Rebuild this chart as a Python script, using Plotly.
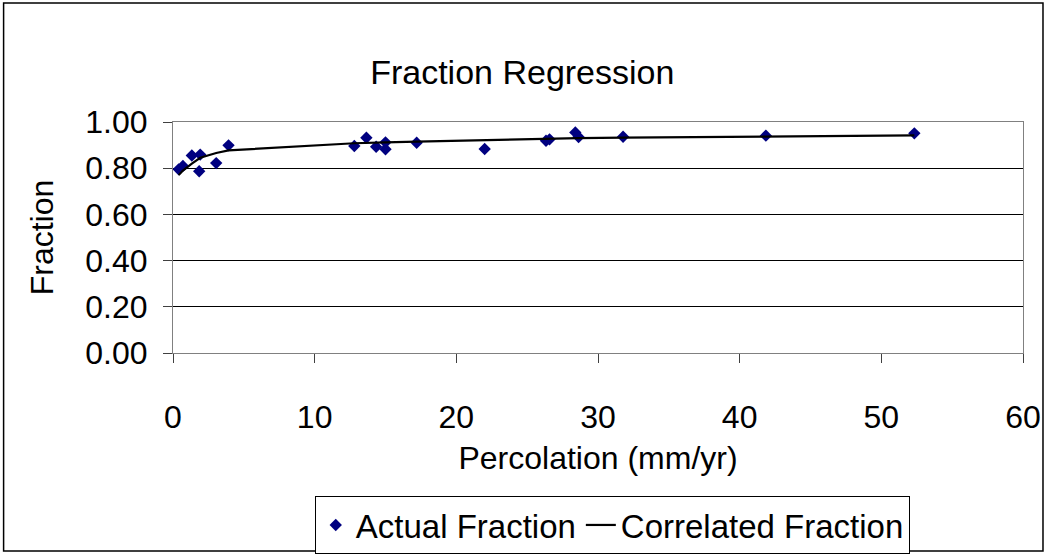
import plotly.graph_objects as go

# Data
actual_x = [0.4, 0.7, 1.33, 1.85, 1.92, 3.05, 3.92, 12.8, 13.65, 14.34, 15.0, 15.0,
            17.2, 22.0, 26.33, 26.58, 28.4, 28.63, 31.77, 41.85, 52.33]
actual_y = [0.795, 0.81, 0.855, 0.787, 0.859, 0.822, 0.899, 0.896, 0.932, 0.893, 0.912, 0.882,
            0.910, 0.883, 0.919, 0.925, 0.955, 0.935, 0.936, 0.941, 0.951]

corr_x = [0.4, 0.7, 1.33, 1.85, 1.92, 3.05, 3.92, 12.8, 13.65, 14.34, 15.0,
          17.2, 22.0, 26.33, 26.58, 28.4, 28.63, 31.77, 41.85, 52.33]
corr_y = [0.77, 0.79, 0.82, 0.84, 0.845, 0.866, 0.877, 0.908, 0.91, 0.911, 0.912,
          0.915, 0.922, 0.926, 0.926, 0.929, 0.93, 0.932, 0.937, 0.942]

x_ticks = [0, 10, 20, 30, 40, 50, 60]
y_ticks = [0.0, 0.2, 0.4, 0.6, 0.8, 1.0]

FONT = "Liberation Sans, Arial, sans-serif"
FS = 32
W, H = 1046, 554
L, R, T, B = 172.5, 23, 122, 201
pw, ph = W - L - R, H - T - B

def px(x):
    return (x - L) / pw

def py(y):
    return (H - B - y) / ph

fig = go.Figure()
fig.add_trace(go.Scatter(
    x=actual_x, y=actual_y, mode="markers", name="Actual Fraction",
    marker=dict(symbol="diamond", size=9.5, color="#000080"),
))
fig.add_trace(go.Scatter(
    x=corr_x, y=corr_y, mode="lines", name="Correlated Fraction",
    line=dict(color="black", width=2.2),
))

fig.update_layout(
    width=W, height=H,
    margin=dict(l=L, r=R, t=T, b=B, autoexpand=False),
    paper_bgcolor="white", plot_bgcolor="white",
    font=dict(family=FONT, size=FS, color="black"),
    title=dict(text="Fraction Regression", xref="paper", x=px(522), xanchor="center",
               yref="container", y=1 - 72 / H, yanchor="middle", font=dict(size=34)),
    showlegend=True,
    legend=dict(orientation="h", x=px(612), xanchor="center", y=py(525), yanchor="middle",
                bordercolor="black", borderwidth=1, bgcolor="white",
                font=dict(size=33), itemwidth=30, tracegroupgap=0),
    xaxis=dict(range=[0, 60], tickvals=x_ticks, ticktext=[str(v) for v in x_ticks],
               showgrid=False, zeroline=False, showline=True, linecolor="#808080", linewidth=1,
               mirror=True, ticks="outside", ticklen=9, tickcolor="#404040",
               ticklabelstandoff=27,
               title=dict(text="Percolation (mm/yr)", standoff=12, font=dict(size=FS)),
               tickfont=dict(size=FS)),
    yaxis=dict(range=[0, 1], tickvals=y_ticks, ticktext=[f"{v:.2f}" for v in y_ticks],
               showgrid=True, gridcolor="black", gridwidth=1, zeroline=False,
               showline=True, linecolor="#808080", linewidth=1, mirror=True,
               ticks="outside", ticklen=9, tickcolor="#404040",
               ticklabelstandoff=9,
               title=dict(text="Fraction", standoff=22, font=dict(size=FS)),
               tickfont=dict(size=FS)),
    shapes=[dict(type="rect", xref="paper", yref="paper",
                 x0=px(3), x1=px(1043), y0=py(551), y1=py(3),
                 line=dict(color="black", width=1.5), fillcolor="rgba(0,0,0,0)", layer="below")],
)

fig.write_html("out.html", config={"displayModeBar": False},
               post_script="document.body.style.margin='0';document.body.style.overflow='hidden';")
